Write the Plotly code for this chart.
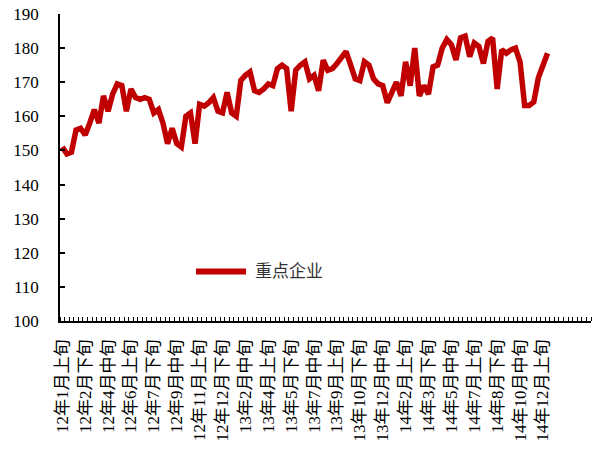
import plotly.graph_objects as go

years = ["12", "13", "14"]
months = list(range(1, 13))
dekads = ["上旬", "中旬", "下旬"]
periods = [f"{y}年{m}月{d}" for y in years for m in months for d in dekads]

series_name = "重点企业"
values = [
    151, 149, 149.5, 156, 156.5, 154.5, 158, 162, 158, 166,
    161.5, 166.5, 169.5, 169, 161.5, 168, 165.5, 165, 165.5, 165,
    161, 162, 158, 152, 156.5, 152, 151, 160, 161, 152,
    163.5, 163, 164, 165.5, 161.5, 161, 167, 161, 160, 170.5,
    172, 173, 167.5, 167, 168, 169.5, 169, 174, 175, 174,
    161.5, 173.5, 175, 176, 171, 172, 167.5, 176.5, 173.5, 174,
    175.5, 177.5, 179, 175, 171, 170.5, 176, 175, 171, 169.5,
    169, 164, 167, 170, 166, 176, 169, 180, 166, 169,
    166.5, 174.5, 175, 180, 182.5, 181, 176.5, 183, 183.5, 177.5,
    181.5, 180.5, 175.5, 182, 183, 168, 179.5, 178.5, 179.5, 180,
    176, 163.2, 163.2, 164.2, 171.3, 174.7, 178.5,
]
n_slots = 116
label_step = 5

x_idx = list(range(len(values)))
tick_idx = [i for i in range(0, len(periods), label_step) if i <= 105]
tick_text = [periods[i] for i in tick_idx]

red = "#C00000"
font_fam = "Liberation Serif, Times New Roman, Noto Sans CJK SC, serif"

fig = go.Figure()
fig.add_trace(go.Scatter(
    x=x_idx, y=values, mode="lines", name=series_name,
    line=dict(color=red, width=5.5, shape="linear"),
    showlegend=False, hoverinfo="skip",
))

fig.update_layout(
    width=603, height=449,
    margin=dict(l=60, r=12, t=14, b=128),
    paper_bgcolor="white", plot_bgcolor="white",
    font=dict(family=font_fam, color="black", size=16),
    xaxis=dict(
        range=[-0.5, n_slots - 0.5], automargin=False,
        tickvals=tick_idx, ticktext=tick_text, tickangle=-90,
        ticks="", showgrid=False, zeroline=False,
        showline=True, linecolor="black", linewidth=1.5,
        ticklabelstandoff=10,
        tickfont=dict(size=17, family=font_fam),
        minor=dict(ticks="inside", ticklen=4, tickcolor="black", tickwidth=1,
                   tick0=0.5, dtick=1, showgrid=False),
    ),
    yaxis=dict(
        range=[100, 190], dtick=10, tick0=100, automargin=False,
        ticks="inside", ticklen=5, tickwidth=1.5, tickcolor="black",
        showgrid=False, zeroline=False,
        showline=True, linecolor="black", linewidth=1.5,
        ticklabelstandoff=16,
        tickfont=dict(size=17, family=font_fam),
    ),
)

fig.add_shape(type="line", xref="paper", yref="paper",
              x0=(196 - 60) / 531, x1=(246 - 60) / 531,
              y0=(321.5 - 272) / 307.5, y1=(321.5 - 272) / 307.5,
              line=dict(color=red, width=6))
fig.add_annotation(xref="paper", yref="paper",
                   x=(253 - 60) / 531, y=(321.5 - 272) / 307.5,
                   text=series_name, showarrow=False,
                   xanchor="left", yanchor="middle",
                   font=dict(size=17, color="#333333", family=font_fam))

fig.write_html("out.html")
